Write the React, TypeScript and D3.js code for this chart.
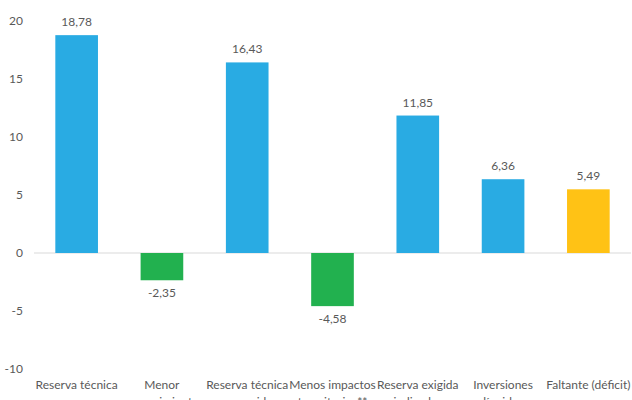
import React from "react";
import * as d3 from "d3";

const categories = [
  ["Reserva técnica"],
  ["Menor", "requerimiento"],
  ["Reserva técnica", "requerida"],
  ["Menos impactos", "transitorios**"],
  ["Reserva exigida", "indicador"],
  ["Inversiones", "líquidas"],
  ["Faltante (déficit)"],
];
const values = [18.78, -2.35, 16.43, -4.58, 11.85, 6.36, 5.49];
const barKinds = ["pos", "neg", "pos", "neg", "pos", "pos", "gap"];
const yTicks = [-10, -5, 0, 5, 10, 15, 20];

const W = 632;
const H = 400;
const colors: Record<string, string> = { pos: "#29ABE3", neg: "#22B14F", gap: "#FFC215" };
const font = "Lato, 'Open Sans', sans-serif";

export default function App() {
  const x = d3
    .scaleBand<number>()
    .domain(values.map((_, i) => i))
    .range([34, 631])
    .paddingInner(0.5)
    .paddingOuter(0.25);
  const y = d3.scaleLinear().domain([-10, 20]).range([369, 21]);
  const fmt = (v: number) => v.toFixed(2).replace(".", ",");
  return (
    <svg width={W} height={H} style={{ position: "absolute", left: 0, top: 0 }} fontFamily={font}>
      <rect width={W} height={H} fill="#fff" />
      {yTicks.map((t) => (
        <text key={t} x={23} y={y(t)} dy="0.35em" textAnchor="end" fontSize={12} fill="#595959">
          {t}
        </text>
      ))}
      <line x1={34} x2={631} y1={y(0)} y2={y(0)} stroke="#d9d9d9" strokeWidth={1} />
      {values.map((v, i) => {
        const x0 = x(i)!;
        const top = y(Math.max(0, v));
        const bot = y(Math.min(0, v));
        const cx = x0 + x.bandwidth() / 2;
        return (
          <g key={i}>
            <rect x={x0} y={top} width={x.bandwidth()} height={bot - top} fill={colors[barKinds[i]]} />
            <text
              x={cx}
              y={v >= 0 ? top - 9 : bot + 8}
              dy={v >= 0 ? 0 : "0.75em"}
              textAnchor="middle"
              fontSize={12}
              fill="#595959"
            >
              {fmt(v)}
            </text>
          </g>
        );
      })}
      {categories.map((lines, i) => {
        const cx = x(i)! + x.bandwidth() / 2;
        return (
          <text key={i} x={cx} y={389} textAnchor="middle" fontSize={12} fill="#595959">
            {lines.map((l, j) => (
              <tspan key={j} x={cx} dy={j === 0 ? 0 : 17}>
                {l}
              </tspan>
            ))}
          </text>
        );
      })}
    </svg>
  );
}
